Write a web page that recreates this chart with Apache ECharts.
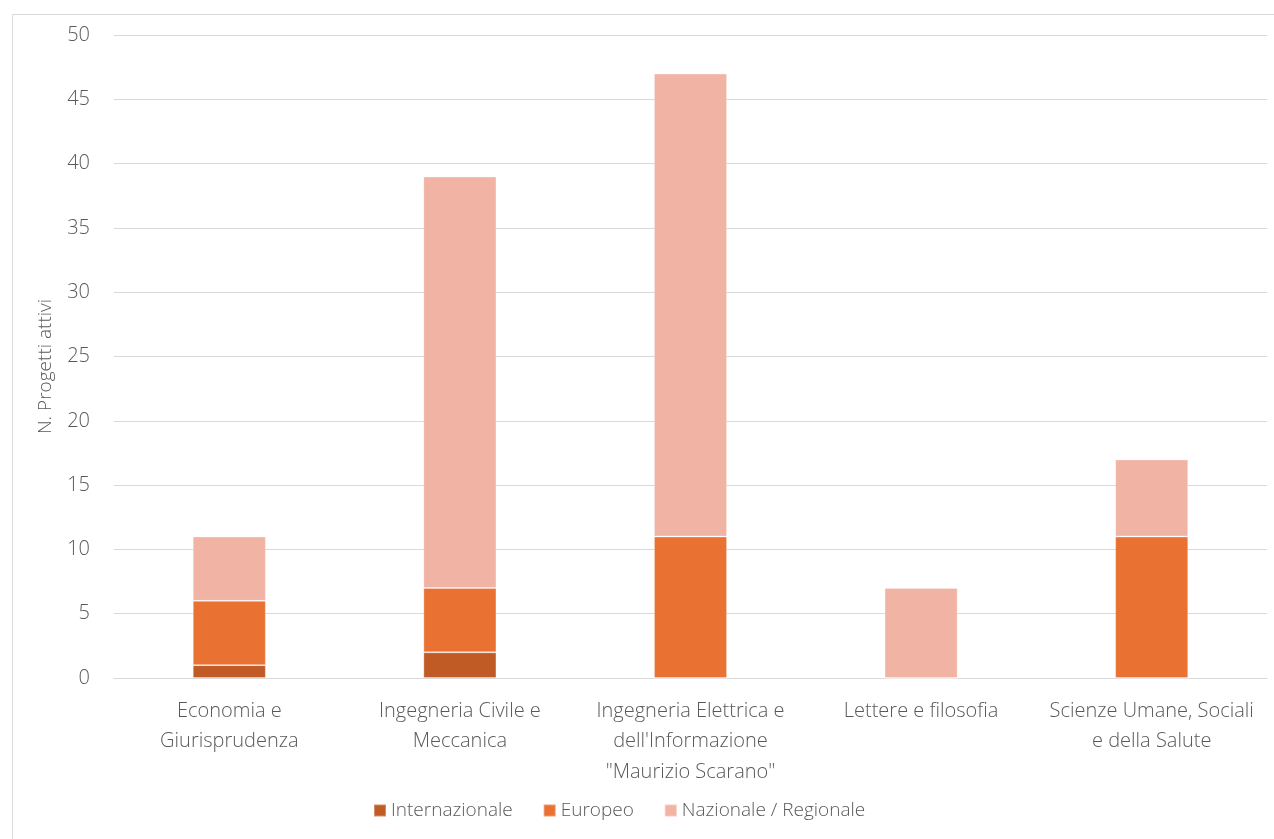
<!DOCTYPE html>
<html>
<head>
<meta charset="utf-8">
<script src="https://cdn.jsdelivr.net/npm/echarts@6/dist/echarts.min.js"></script>
<style>
  html, body { margin: 0; padding: 0; background: #fff; }
  #chart { width: 1274px; height: 839px; }
</style>
</head>
<body>
<div id="chart"></div>
<script>
// Active research projects per department, split by funding scope
const categories = [
  'Economia e\nGiurisprudenza',
  'Ingegneria Civile e\nMeccanica',
  'Ingegneria Elettrica e\ndell\'Informazione\n"Maurizio Scarano"',
  'Lettere e filosofia',
  'Scienze Umane, Sociali\ne della Salute'
];
const internazionale = [1, 2, 0, 0, 0];
const europeo = [5, 5, 11, 0, 11];
const nazionale = [5, 32, 36, 7, 6];
const yTicks = { min: 0, max: 50, interval: 5 };

const FONT = '"Open Sans", "Liberation Sans", sans-serif';
const TEXT = '#595959';

const chart = echarts.init(document.getElementById('chart'), null, { renderer: 'canvas' });

function barSeries(name, data, color) {
  return {
    name, type: 'bar', stack: 'tot', data,
    barWidth: '31.7%',
    itemStyle: { color, borderColor: 'rgba(255,255,255,0.3)', borderWidth: 1 },
    emphasis: { disabled: true }
  };
}

chart.setOption({
  animation: false,
  textStyle: { fontFamily: FONT },
  graphic: [{
    type: 'rect', left: 10, top: 12,
    shape: { width: 1270, height: 835 },
    style: { fill: 'none', stroke: '#d9d9d9', lineWidth: 1 },
    silent: true
  }],
  grid: { left: 114, right: 7, top: 35, bottom: 161, containLabel: false },
  legend: {
    bottom: 14, left: 368,
    itemWidth: 12, itemHeight: 12, itemGap: 30,
    icon: 'rect',
    textStyle: { color: TEXT, fontSize: 19, fontWeight: 300, fontFamily: FONT },
    data: ['Internazionale', 'Europeo', 'Nazionale / Regionale']
  },
  xAxis: {
    type: 'category', data: categories,
    axisLine: { show: true, lineStyle: { color: '#d9d9d9', width: 1 } },
    axisTick: { show: false },
    axisLabel: {
      color: TEXT, fontSize: 20, fontWeight: 300, fontFamily: FONT,
      lineHeight: 30.5, margin: 18, interval: 0
    }
  },
  yAxis: {
    type: 'value', min: yTicks.min, max: yTicks.max, interval: yTicks.interval,
    name: 'N. Progetti attivi', nameLocation: 'middle', nameGap: 59, nameRotate: 90,
    nameTextStyle: { color: TEXT, fontSize: 19, fontWeight: 300, fontFamily: FONT, padding: [0, 20, 0, 0] },
    axisLine: { show: false }, axisTick: { show: false },
    splitLine: { lineStyle: { color: '#d9d9d9', width: 1 } },
    axisLabel: { color: TEXT, fontSize: 20, fontWeight: 300, fontFamily: FONT, margin: 24 }
  },
  series: [
    barSeries('Internazionale', internazionale, '#C05B26'),
    barSeries('Europeo', europeo, '#E97132'),
    barSeries('Nazionale / Regionale', nazionale, '#F1B3A3')
  ]
});
</script>
</body>
</html>
